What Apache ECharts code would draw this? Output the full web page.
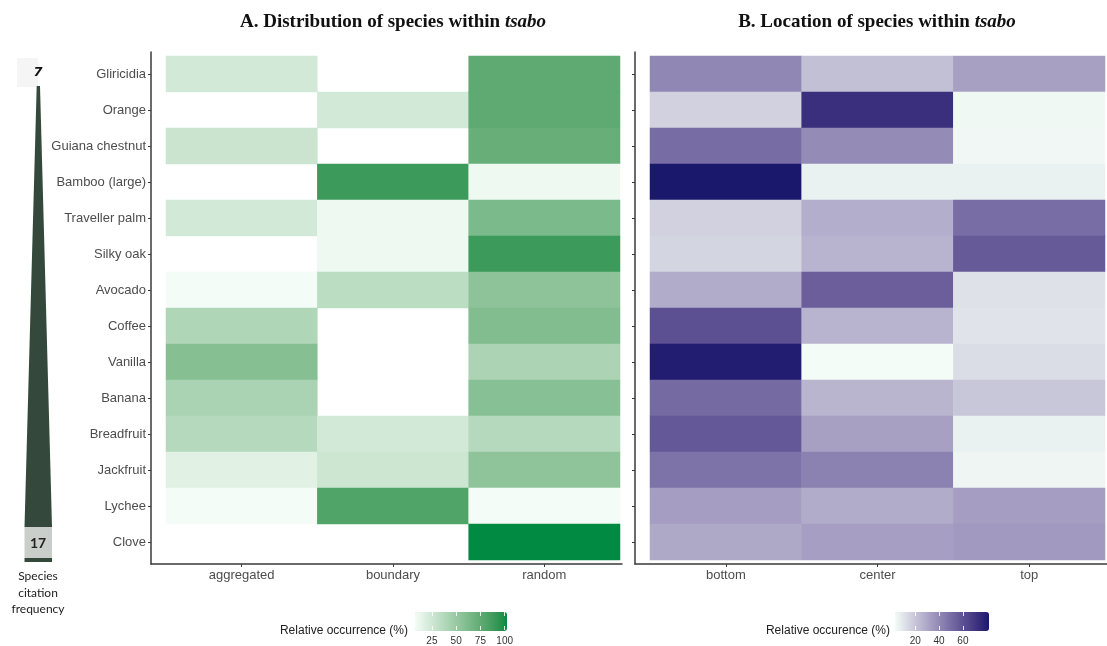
<!DOCTYPE html>
<html><head><meta charset="utf-8">
<script src="https://cdn.jsdelivr.net/npm/echarts@6/dist/echarts.min.js"></script>
<style>html,body{margin:0;padding:0;background:#fff}#c{width:1107px;height:646px}</style>
</head><body><div id="c"></div>
<script>
// ---------- data ----------
const species = ['Gliricidia','Orange','Guiana chestnut','Bamboo (large)','Traveller palm','Silky oak','Avocado','Coffee','Vanilla','Banana','Breadfruit','Jackfruit','Lychee','Clove'];
const distributionTypes = ['aggregated','boundary','random'];
const locationTypes = ['bottom','center','top'];
// A. relative occurrence (%) per distribution type (null = not cited)
const aggregated = [25, null, 28.6, null, 25, null, 10, 40, 58.3, 42.9, 37.5, 18.2, 10, null];
const boundary   = [null, 25, null, 87.5, 12.5, 12.5, 35, null, null, null, 25, 27.3, 80, null];
const random     = [75, 75, 71.4, 12.5, 62.5, 87.5, 55, 60, 41.7, 57.1, 37.5, 54.5, 10, 100];
// B. relative occurrence (%) per location
const bottom = [40.9, 17.6, 49.8, 80, 17.6, 16.6, 29.3, 59.5, 77.8, 50.5, 56.5, 47.4, 33.5, 30];
const center = [22.9, 71.3, 39.7, 8.3, 28.6, 26.4, 54.3, 26.5, 5, 26.1, 32.7, 42.5, 29.3, 33];
const topLoc = [32.7, 6.3, 6.5, 8.3, 49.6, 55.7, 13, 12.2, 14, 20.6, 8.3, 7.2, 33.5, 34.9];
const greenTicks = [25, 50, 75, 100];
const purpleTicks = [20, 40, 60];
const citationLabels = ['7', '17'];

// ---------- colour ramps (Lab interpolation, like ggplot) ----------
function hex2rgb(h){return [1,3,5].map(i=>parseInt(h.substr(i,2),16));}
function lin(c){c/=255;return c<=0.04045?c/12.92:Math.pow((c+0.055)/1.055,2.4);}
function delin(c){c=c<=0.0031308?12.92*c:1.055*Math.pow(c,1/2.4)-0.055;return Math.max(0,Math.min(255,Math.round(c*255)));}
function rgb2lab(rgb){const r=lin(rgb[0]),g=lin(rgb[1]),b=lin(rgb[2]);
  const x=(0.4124*r+0.3576*g+0.1805*b)/0.95047,y=0.2126*r+0.7152*g+0.0722*b,z=(0.0193*r+0.1192*g+0.9505*b)/1.08883;
  const f=t=>t>0.008856?Math.cbrt(t):7.787*t+16/116;const fx=f(x),fy=f(y),fz=f(z);
  return [116*fy-16,500*(fx-fy),200*(fy-fz)];}
function lab2rgb(lab){const fy=(lab[0]+16)/116,fx=fy+lab[1]/500,fz=fy-lab[2]/200;
  const fi=t=>t*t*t>0.008856?t*t*t:(t-16/116)/7.787;
  const x=fi(fx)*0.95047,y=fi(fy),z=fi(fz)*1.08883;
  return [delin(3.2406*x-1.5372*y-0.4986*z),delin(-0.9689*x+1.8758*y+0.0415*z),delin(0.0557*x-0.2040*y+1.0570*z)];}
function labRamp(lo,hi,n){const A=rgb2lab(hex2rgb(lo)),B=rgb2lab(hex2rgb(hi));const out=[];
  for(let i=0;i<n;i++){const t=i/(n-1);const c=lab2rgb(A.map((v,k)=>v+(B[k]-v)*t));out.push('rgb('+c.join(',')+')');}return out;}
const LOW='#f4fcf7', GREEN_HIGH='#008a42', PURPLE_HIGH='#19186d';

function cells(cols){const out=[];cols.forEach((arr,j)=>arr.forEach((v,i)=>{if(v!==null)out.push([j,i,v]);}));return out;}
const greenData = cells([aggregated, boundary, random]);
const purpleData = cells([bottom, center, topLoc]);

const AX='#3a3a3a', LAB='#4d4d4d', SANS='Liberation Sans';
const hiddenLine = {show:true, lineStyle:{color:'rgba(0,0,0,0)', width:1}};
const catX = (idx, grid, cats) => ({type:'category', gridIndex:grid, data:cats, offset:4,
  axisLine:hiddenLine, axisTick:{show:true, alignWithLabel:true, length:3, lineStyle:{color:AX, width:1}},
  axisLabel:{color:LAB, fontSize:13, fontFamily:SANS, margin:5}, splitLine:{show:false}});
const catY = (grid, showLabel) => ({type:'category', gridIndex:grid, data:species, inverse:true, offset:15,
  axisLine:hiddenLine, axisTick:{show:true, alignWithLabel:true, length:3, lineStyle:{color:AX, width:1}},
  axisLabel:{show:showLabel, color:LAB, fontSize:13, fontFamily:SANS, margin:5}, splitLine:{show:false}});
const frameAx = (type, grid) => ({type:'value', gridIndex:grid, min:0, max:1, axisLine:{show:true, lineStyle:{color:AX, width:1.5}},
  axisTick:{show:false}, axisLabel:{show:false}, splitLine:{show:false}});
const barAx = (grid, max, interval, ticks, pos, labels) => ({type:'value', gridIndex:grid, min:0, max:max, interval:interval, position:pos, z:10,
  axisLine:{show:false}, splitLine:{show:false},
  axisTick:{show:true, inside:true, length:4, customValues:ticks, lineStyle:{color:'rgba(255,255,255,0.85)', width:1}},
  axisLabel:{show:labels, customValues:ticks, color:'#333', fontSize:10, fontFamily:SANS, margin:6}});
const hiddenY = grid => ({type:'value', gridIndex:grid, min:0, max:1, show:false});

const chart = echarts.init(document.getElementById('c'), null, {renderer:'canvas'});
chart.setOption({
  backgroundColor:'#fff',
  animation:false,
  grid:[
    {left:166, top:56, width:454, height:504},
    {left:650, top:56, width:455, height:504},
    {left:151, top:52, width:471, height:512},
    {left:635, top:52, width:472, height:512},
    {left:407.6, top:612, width:97.1, height:19},
    {left:891.4, top:612, width:95.3, height:19}
  ],
  xAxis:[
    catX(0, 0, distributionTypes),
    catX(1, 1, locationTypes),
    frameAx('x', 2), frameAx('x', 3),
    barAx(4, 100, 25, greenTicks, 'bottom', true),
    barAx(4, 100, 25, greenTicks, 'top', false),
    barAx(5, 80, 20, purpleTicks, 'bottom', true),
    barAx(5, 80, 20, purpleTicks, 'top', false)
  ],
  yAxis:[
    catY(0, true), catY(1, false),
    frameAx('y', 2), frameAx('y', 3),
    hiddenY(4), hiddenY(5)
  ],
  visualMap:[
    {type:'continuous', seriesIndex:0, min:10, max:100, orient:'horizontal', left:415, top:612,
     itemWidth:19, itemHeight:92, padding:0, calculable:false, hoverLink:false, text:null,
     inRange:{color:labRamp(LOW, GREEN_HIGH, 32)}},
    {type:'continuous', seriesIndex:1, min:5, max:80, orient:'horizontal', left:895, top:612,
     itemWidth:19, itemHeight:94, padding:0, calculable:false, hoverLink:false, text:null,
     inRange:{color:labRamp(LOW, PURPLE_HIGH, 32)}}
  ],
  series:[
    {type:'heatmap', xAxisIndex:0, yAxisIndex:0, data:greenData, emphasis:{disabled:true}, itemStyle:{borderWidth:0}},
    {type:'heatmap', xAxisIndex:1, yAxisIndex:1, data:purpleData, emphasis:{disabled:true}, itemStyle:{borderWidth:0}}
  ],
  graphic:[
    {type:'text', x:393, y:22, style:{text:'{a|A. Distribution of species within }{i|tsabo}', align:'center', verticalAlign:'middle',
      rich:{a:{fontFamily:'Liberation Serif', fontWeight:'bold', fontSize:19, fill:'#111'}, i:{fontFamily:'Liberation Serif', fontWeight:'bold', fontStyle:'italic', fontSize:19, fill:'#111'}}}},
    {type:'text', x:877, y:22, style:{text:'{a|B. Location of species within }{i|tsabo}', align:'center', verticalAlign:'middle',
      rich:{a:{fontFamily:'Liberation Serif', fontWeight:'bold', fontSize:19, fill:'#111'}, i:{fontFamily:'Liberation Serif', fontWeight:'bold', fontStyle:'italic', fontSize:19, fill:'#111'}}}},
    {type:'text', x:408, y:631, style:{text:'Relative occurrence (%)', align:'right', verticalAlign:'middle', fontFamily:SANS, fontSize:12, fill:'#222'}},
    {type:'text', x:890, y:631, style:{text:'Relative occurence (%)', align:'right', verticalAlign:'middle', fontFamily:SANS, fontSize:12, fill:'#222'}},
    // species citation frequency wedge
    {type:'rect', shape:{x:17, y:58, width:21, height:29}, style:{fill:'#f5f5f5'}},
    {type:'polygon', shape:{points:[[36.7,86],[40,86],[52,527],[24.5,527]]}, style:{fill:'#34493b'}},
    {type:'rect', shape:{x:24.5, y:527, width:27.5, height:31}, style:{fill:'#c9cecb'}},
    {type:'rect', shape:{x:24.5, y:558, width:27.5, height:4}, style:{fill:'#34493b'}},
    {type:'text', x:38, y:73, style:{text:citationLabels[0], align:'center', verticalAlign:'middle', fontFamily:'DejaVu Sans', fontWeight:'bold', fontStyle:'italic', fontSize:13, fill:'#111'}},
    {type:'text', x:38, y:543, style:{text:citationLabels[1], align:'center', verticalAlign:'middle', fontFamily:'Lato', fontWeight:'bold', fontSize:14, fill:'#222'}},
    {type:'text', x:38, y:568, style:{text:'Species\ncitation\nfrequency', align:'center', verticalAlign:'top', fontFamily:'Lato', fontSize:12, lineHeight:16.5, fill:'#222'}}
  ]
});
</script></body></html>
